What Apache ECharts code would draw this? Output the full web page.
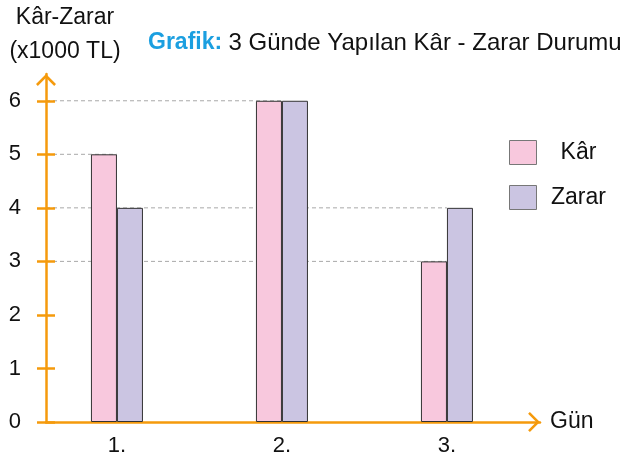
<!DOCTYPE html>
<html>
<head>
<meta charset="UTF-8">
<title>Kâr - Zarar Grafiği</title>
<script src="https://cdn.jsdelivr.net/npm/echarts@6/dist/echarts.min.js"></script>
<style>
  html, body { margin: 0; padding: 0; background: #fff; }
  #main { width: 625px; height: 459px; }
</style>
</head>
<body>
<div id="main"></div>
<script type="text/javascript">
// veriler
var gunler = ['1.', '2.', '3.'];
var gunPos = [1, 2, 3];
var karDegerleri = [5, 6, 3];
var zararDegerleri = [4, 6, 4];
var yEtiketleri = [0, 1, 2, 3, 4, 5, 6];

var turuncu = '#f59a0c';
var yazi = 'Liberation Sans, Arial, sans-serif';
var xMin = 0.57, xMax = 3.564;
var ok = 'path://M10,0 L20,10 L18.2,11.8 L10,3.6 L1.8,11.8 L0,10 Z';

var myChart = echarts.init(document.getElementById('main'));

// kesikli çizgiler: her değer için o değere sahip en sağdaki çubuğa kadar
var kesikli = [];
var degerler = [];
karDegerleri.concat(zararDegerleri).forEach(function (v) {
    if (degerler.indexOf(v) < 0) degerler.push(v);
});
degerler.forEach(function (v) {
    var son = 0;
    gunPos.forEach(function (p, i) {
        if (karDegerleri[i] === v || zararDegerleri[i] === v) son = p;
    });
    kesikli.push({
        type: 'line',
        z: 1,
        silent: true,
        symbol: 'none',
        lineStyle: { color: '#a8a8a8', width: 1, type: [4, 3] },
        data: [[xMin, v], [son, v]]
    });
});

function ciftler(vals) {
    return vals.map(function (v, i) { return [gunPos[i], v]; });
}

var option = {
    animation: false,
    textStyle: { fontFamily: yazi },
    title: [
        {
            text: 'Kâr-Zarar\n(x1000 TL)',
            left: 65, top: 1, padding: 0,
            textAlign: 'center',
            textStyle: { fontSize: 23, fontWeight: 'normal', color: '#111', lineHeight: 34, fontFamily: yazi }
        },
        {
            text: '{a|Grafik:} {b|3 Günde Yapılan Kâr - Zarar Durumu}',
            left: 148, top: 31, padding: 0,
            textStyle: {
                fontWeight: 'normal',
                fontSize: 23,
                rich: {
                    a: { fontSize: 23, fontWeight: 'bold', color: '#1b9fe0', fontFamily: yazi },
                    b: { fontSize: 24, fontWeight: 'normal', color: '#111', fontFamily: yazi }
                }
            }
        }
    ],
    legend: {
        data: ['Kâr', 'Zarar'],
        orient: 'vertical',
        left: 504, top: 135,
        itemWidth: 27, itemHeight: 24, itemGap: 20,
        icon: 'rect',
        itemStyle: { borderColor: '#777', borderWidth: 1 },
        formatter: function (name) { return '{t|' + name + '}'; },
        textStyle: {
            rich: { t: { width: 74, align: 'center', fontSize: 23, color: '#111', fontFamily: yazi } }
        }
    },
    grid: { left: 46, right: 85, top: 74, bottom: 37 },
    xAxis: {
        type: 'value',
        min: xMin, max: xMax,
        name: 'Gün',
        nameLocation: 'end',
        nameGap: 10,
        nameTextStyle: { fontSize: 23, color: '#111', verticalAlign: 'middle' },
        axisLine: {
            show: true,
            symbol: ['none', ok],
            symbolSize: [20, 12],
            symbolOffset: [0, -6],
            lineStyle: { color: turuncu, width: 2.5 }
        },
        axisTick: { show: false },
        splitLine: { show: false },
        axisLabel: {
            customValues: gunPos,
            margin: 13,
            fontSize: 22,
            color: '#111',
            formatter: function (v) { return gunler[gunPos.indexOf(v)]; }
        }
    },
    yAxis: [
        {
            type: 'value',
            min: 0, max: 6.5,
            z: 3,
            axisLine: {
                show: true,
                symbol: ['none', ok],
                symbolSize: [20, 12],
                symbolOffset: [0, -6],
                lineStyle: { color: turuncu, width: 2.5 }
            },
            axisTick: { show: true, length: 9, customValues: yEtiketleri, lineStyle: { color: turuncu, width: 2.5 } },
            axisLabel: { customValues: yEtiketleri, margin: 25, fontSize: 22, color: '#111' },
            splitLine: { show: false }
        },
        {
            type: 'value',
            min: 0, max: 6.5,
            position: 'left',
            z: 3,
            axisLine: { show: false },
            axisTick: { show: true, inside: true, length: 9, customValues: yEtiketleri, lineStyle: { color: turuncu, width: 2.5 } },
            axisLabel: { show: false },
            splitLine: { show: false }
        }
    ],
    series: [
        {
            name: 'Kâr',
            type: 'bar',
            barWidth: 26,
            barGap: '0%',
            itemStyle: { color: '#f8c8dd', borderColor: '#333', borderWidth: 1 },
            data: ciftler(karDegerleri)
        },
        {
            name: 'Zarar',
            type: 'bar',
            barWidth: 26,
            barGap: '0%',
            itemStyle: { color: '#cbc5e2', borderColor: '#333', borderWidth: 1 },
            data: ciftler(zararDegerleri)
        }
    ].concat(kesikli)
};

myChart.setOption(option);
</script>
</body>
</html>
